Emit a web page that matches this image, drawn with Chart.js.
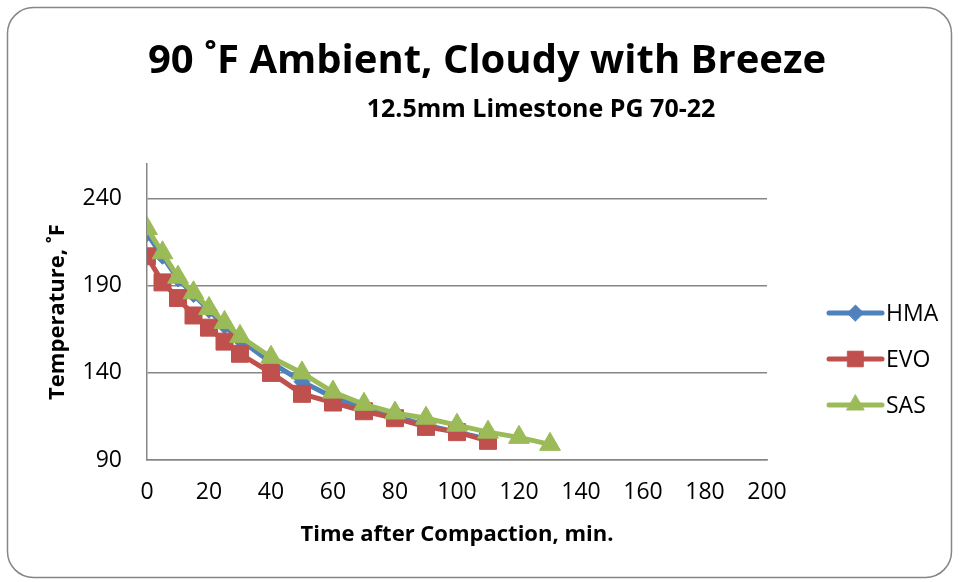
<!DOCTYPE html>
<html>
<head>
<meta charset="utf-8">
<script src="https://cdn.jsdelivr.net/npm/chart.js@4.4.1/dist/chart.umd.min.js"></script>
<style>
  html, body { margin: 0; padding: 0; background: #ffffff; }
  #wrap { width: 959px; height: 582px; position: relative; }
</style>
</head>
<body>
<div id="wrap"><canvas id="chart" width="959" height="582"></canvas></div>
<script>
// Pavement temperature readings after compaction (minutes, °F)
const timeHMA = [0, 5, 10, 15, 20, 25, 30, 40, 50, 60, 70, 80, 90, 100, 110];
const tempHMA = [220, 207, 194, 185, 176, 167, 159, 146, 135, 126, 120, 115, 110, 106, 102];

const timeEVO = [0, 5, 10, 15, 20, 25, 30, 40, 50, 60, 70, 80, 90, 100, 110];
const tempEVO = [207, 192, 183, 173, 166, 158, 151, 140, 128, 123, 118, 114, 109, 106, 101];

const timeSAS = [0, 5, 10, 15, 20, 25, 30, 40, 50, 60, 70, 80, 90, 100, 110, 120, 130];
const tempSAS = [223, 209, 195, 186, 177, 169, 161, 149, 140, 129, 122, 117, 114, 110, 106, 103, 99];

const seriesNames = ['HMA', 'EVO', 'SAS'];
const xTickLabels = [0, 20, 40, 60, 80, 100, 120, 140, 160, 180, 200];
const yTickLabels = [90, 140, 190, 240];

const chartTitle = '90 ˚F Ambient, Cloudy with Breeze';
const chartSubtitle = '12.5mm Limestone PG 70-22';

const FONT = "'Open Sans', 'Liberation Sans', sans-serif";

function pairs(xs, ys) {
  return xs.map((x, i) => ({ x: x, y: ys[i] }));
}

// Rounded frame around the whole chart
const framePlugin = {
  id: 'frame',
  beforeDraw(chart) {
    const ctx = chart.ctx;
    const x0 = 7.5, y0 = 7.5, x1 = 951.5, y1 = 577.5, r = 26;
    ctx.save();
    ctx.fillStyle = '#ffffff';
    ctx.fillRect(0, 0, chart.width, chart.height);
    ctx.beginPath();
    ctx.moveTo(x0 + r, y0);
    ctx.lineTo(x1 - r, y0);
    ctx.arcTo(x1, y0, x1, y0 + r, r);
    ctx.lineTo(x1, y1 - r);
    ctx.arcTo(x1, y1, x1 - r, y1, r);
    ctx.lineTo(x0 + r, y1);
    ctx.arcTo(x0, y1, x0, y1 - r, r);
    ctx.lineTo(x0, y0 + r);
    ctx.arcTo(x0, y0, x0 + r, y0, r);
    ctx.closePath();
    ctx.strokeStyle = '#868686';
    ctx.lineWidth = 1.5;
    ctx.stroke();
    ctx.restore();
  }
};

// Heading and subheading, each placed on its own line
const headingsPlugin = {
  id: 'headings',
  afterDraw(chart) {
    const ctx = chart.ctx;
    ctx.save();
    ctx.fillStyle = '#000000';
    ctx.textAlign = 'center';
    ctx.textBaseline = 'alphabetic';
    ctx.font = 'bold 40px ' + FONT;
    ctx.fillText(chartTitle, 487, 73);
    ctx.font = 'bold 25px ' + FONT;
    ctx.fillText(chartSubtitle, 541, 117);
    ctx.restore();
  }
};

// Legend entries drawn as a line segment with the series marker
const lineLegendPlugin = {
  id: 'lineLegend',
  afterDraw(chart) {
    const ctx = chart.ctx;
    const xStart = 829, xEnd = 882, rowY = [313, 359, 405];
    ctx.save();
    chart.data.datasets.forEach((ds, i) => {
      const y = rowY[i];
      ctx.strokeStyle = ds.borderColor;
      ctx.lineWidth = 5;
      ctx.lineCap = 'round';
      ctx.beginPath();
      ctx.moveTo(xStart, y);
      ctx.lineTo(xEnd, y);
      ctx.stroke();
      ctx.fillStyle = ds.backgroundColor;
      ctx.strokeStyle = ds.borderColor;
      ctx.lineWidth = 1;
      Chart.helpers.drawPoint(ctx, {
        pointStyle: ds.pointStyle,
        radius: ds.legendRadius,
        rotation: 0,
        borderWidth: 1
      }, (xStart + xEnd) / 2, y);
      ctx.fillStyle = '#000000';
      ctx.font = '23px ' + FONT;
      ctx.textAlign = 'left';
      ctx.textBaseline = 'middle';
      ctx.fillText(ds.label, 886, y + 1);
    });
    ctx.restore();
  }
};

const colors = ['#4F81BD', '#C0504D', '#9BBB59'];

new Chart(document.getElementById('chart'), {
  type: 'scatter',
  data: {
    datasets: [
      {
        label: seriesNames[0],
        data: pairs(timeHMA, tempHMA),
        showLine: true,
        borderColor: colors[0],
        backgroundColor: colors[0],
        borderWidth: 5,
        pointStyle: 'rectRot',
        pointRadius: 8,
        legendRadius: 8,
        pointBorderWidth: 1,
        order: 3
      },
      {
        label: seriesNames[1],
        data: pairs(timeEVO, tempEVO),
        showLine: true,
        borderColor: colors[1],
        backgroundColor: colors[1],
        borderWidth: 5,
        pointStyle: 'rect',
        pointRadius: 12,
        legendRadius: 11,
        pointBorderWidth: 1,
        order: 2
      },
      {
        label: seriesNames[2],
        data: pairs(timeSAS, tempSAS),
        showLine: true,
        borderColor: colors[2],
        backgroundColor: colors[2],
        borderWidth: 5,
        pointStyle: 'triangle',
        pointRadius: 12,
        legendRadius: 10,
        pointBorderWidth: 1,
        order: 1
      }
    ]
  },
  options: {
    responsive: false,
    animation: false,
    layout: { padding: { top: 164, right: 0, bottom: 0, left: 0 } },
    plugins: {
      legend: { display: false },
      tooltip: { enabled: false },
      title: { display: false },
      subtitle: { display: false }
    },
    scales: {
      x: {
        type: 'linear',
        min: 0,
        max: 200,
        afterFit(scale) { scale.height = 122; },
        afterBuildTicks(scale) { scale.ticks = xTickLabels.map(v => ({ value: v })); },
        ticks: {
          color: '#000000',
          font: { family: FONT, size: 23 },
          padding: 19,
          maxRotation: 0
        },
        grid: { display: false, drawTicks: false },
        border: { display: true, color: '#868686', width: 1.5 },
        title: {
          display: true,
          text: 'Time after Compaction, min.',
          color: '#000000',
          font: { family: FONT, size: 22, weight: 'bold', lineHeight: 1.2 },
          padding: { top: 0, bottom: 34 }
        }
      },
      y: {
        type: 'linear',
        position: 'left',
        min: 90,
        max: 260,
        afterFit(scale) { scale.width = 147; },
        afterBuildTicks(scale) { scale.ticks = yTickLabels.map(v => ({ value: v })); },
        ticks: {
          color: '#000000',
          font: { family: FONT, size: 23 },
          padding: 25
        },
        grid: { color: '#868686', lineWidth: 1.5, drawTicks: false },
        border: { display: true, color: '#868686', width: 1.5 },
        title: {
          display: true,
          text: 'Temperature, ˚F',
          color: '#000000',
          font: { family: FONT, size: 22, weight: 'bold', lineHeight: 1.2 },
          padding: { top: 45, bottom: 0 }
        }
      },
      // empty right-hand band that leaves room for the legend
      legendBand: {
        type: 'linear',
        position: 'right',
        min: 0,
        max: 1,
        afterFit(scale) { scale.width = 192; },
        ticks: { display: false },
        grid: { display: false, drawTicks: false },
        border: { display: false },
        title: { display: false }
      }
    }
  },
  plugins: [framePlugin, headingsPlugin, lineLegendPlugin]
});
</script>
</body>
</html>
